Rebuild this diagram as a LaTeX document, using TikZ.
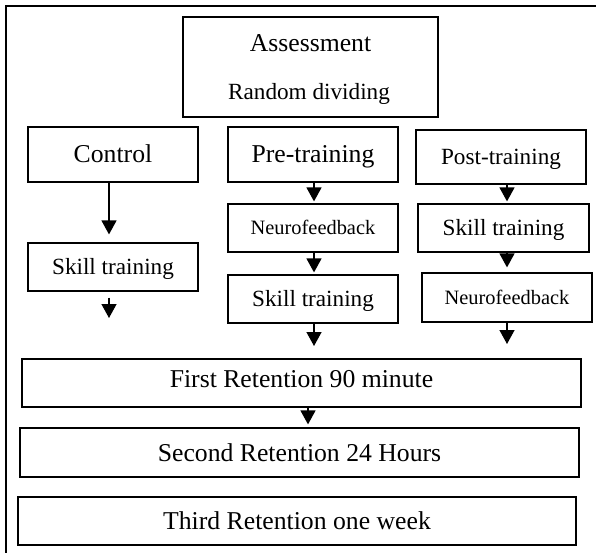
\documentclass[tikz,border=0pt]{standalone}
\usepackage{fontspec}
\setmainfont{Liberation Serif}
\usetikzlibrary{arrows.meta}

\tikzset{
  box/.style={draw, line width=1.2pt, inner sep=0pt},
  big/.style={font=\fontsize{25.7}{30}\selectfont, text height=17pt, text depth=0pt},
  mid/.style={font=\fontsize{23.2}{28}\selectfont, text height=15.4pt, text depth=0pt},
  small/.style={font=\fontsize{20.4}{24}\selectfont, text height=13.5pt, text depth=0pt},
  arr/.style={line width=1.4pt, -{Triangle[length=14pt,width=15pt]}},
}

\begin{document}
\begin{tikzpicture}[x=1pt,y=-1pt]
\useasboundingbox (0,0) rectangle (596,553);

% partial outer frame: left and top edges
\draw[line width=2pt] (6,553) -- (6,6) -- (596,6);

% assessment box with its two text lines
\node[draw, line width=1.2pt, minimum width=255pt, minimum height=100pt, inner sep=0pt] (assess) at (310.5,67) {};
\node[font=\fontsize{25.7}{30}\selectfont, anchor=base] (assessT) at (310.5,52) {Assessment};
\node[font=\fontsize{23.2}{28}\selectfont, anchor=base] (divide) at (309,100) {Random dividing};

% group headers
\node[box, big, minimum width=170pt, minimum height=55pt] (control) at (113,154.5) {Control};
\node[box, big, minimum width=170pt, minimum height=55pt] (pre) at (313,154.5) {Pre-training};
\node[box, mid, minimum width=170pt, minimum height=54pt] (post) at (501,157) {Post-training};

% control branch
\node[box, mid, minimum width=170pt, minimum height=48pt] (ctrlskill) at (113,267) {Skill training};
\coordinate (ctrlend) at (109,318);

% pre-training branch
\node[box, small, minimum width=170pt, minimum height=48pt] (preneuro) at (313,228) {Neurofeedback};
\node[box, mid, minimum width=170pt, minimum height=48pt] (preskill) at (313,299) {Skill training};
\coordinate (preend) at (314,346);

% post-training branch
\node[box, mid, minimum width=171pt, minimum height=48pt] (postskill) at (503.5,228) {Skill training};
\node[box, small, minimum width=170pt, minimum height=49pt] (postneuro) at (507,297.5) {Neurofeedback};
\coordinate (postend) at (507,344);

% retention tests
\node[box, big, text depth=8pt, minimum width=559pt, minimum height=48pt] (first) at (301.5,383) {First Retention 90 minute};
\node[box, big, minimum width=559pt, minimum height=49pt] (second) at (299.5,452.5) {Second Retention 24 Hours};
\node[box, big, minimum width=558pt, minimum height=48pt] (third) at (297,521) {Third Retention one week};

% connectors
\draw[arr] ([xshift=-4pt]control.south) -- ([xshift=-4pt,yshift=8pt]ctrlskill.north);
\draw[arr] ([xshift=-4pt,yshift=-6pt]ctrlskill.south) -- (ctrlend);

\draw[arr] ([xshift=1pt]pre.south) -- ([xshift=1pt,yshift=2pt]preneuro.north);
\draw[arr] ([xshift=1pt]preneuro.south) -- ([xshift=1pt,yshift=2pt]preskill.north);
\draw[arr] ([xshift=1pt]preskill.south) -- (preend);

\draw[arr] ([xshift=6pt]post.south) -- ([xshift=3.5pt,yshift=2pt]postskill.north);
\draw[arr] ([xshift=3.5pt]postskill.south) -- ([xshift=0pt,yshift=5pt]postneuro.north);
\draw[arr] (postneuro.south) -- (postend);

\draw[arr] ([xshift=6.5pt]first.south) -- ([xshift=8.5pt,yshift=3pt]second.north);
\end{tikzpicture}
\end{document}
